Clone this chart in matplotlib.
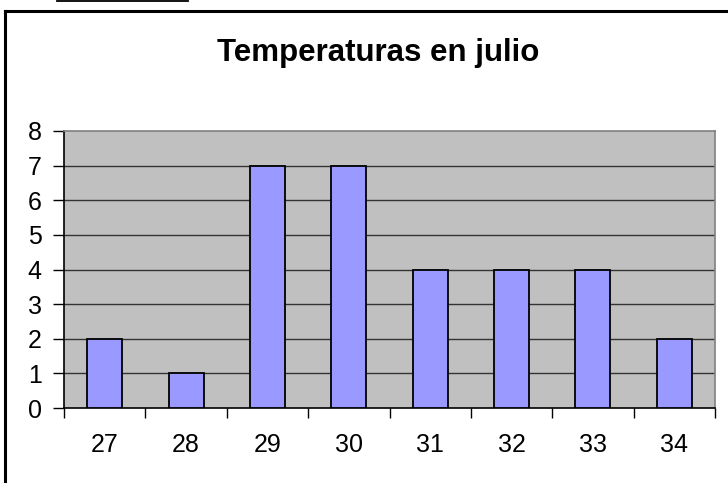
import numpy as np
import matplotlib
matplotlib.use('Agg')
import matplotlib.pyplot as plt
from matplotlib.lines import Line2D

plt.rcParams['font.family'] = ['Liberation Sans', 'DejaVu Sans']

# data: days of July per temperature
temps = ['27', '28', '29', '30', '31', '32', '33', '34']
days = [2, 1, 7, 7, 4, 4, 4, 2]
yticks = [0, 1, 2, 3, 4, 5, 6, 7, 8]

W, H = 728, 483
fig = plt.figure(figsize=(W / 100, H / 100), dpi=100)
fig.patch.set_facecolor('white')

# plot area in pixel terms
left, right, top, bottom = 64, 715, 131, 408
ax = fig.add_axes([left / W, 1 - bottom / H, (right - left) / W, (bottom - top) / H])
ax.set_facecolor('#C0C0C0')

x = np.arange(len(temps))
ax.bar(x, days, width=0.43, color='#9999FF', edgecolor='black', linewidth=1.3, zorder=3)

ax.set_xlim(-0.5, len(temps) - 0.5)
ax.set_ylim(0, 8)
ax.set_yticks(yticks)
ax.set_yticklabels([str(v) for v in yticks])
for v in yticks[1:-1]:
    ax.axhline(v, color='#333333', linewidth=1.0, zorder=1)

ax.set_xticks(x)
ax.set_xticklabels(temps)
ax.set_xticks(np.arange(len(temps) + 1) - 0.5, minor=True)
ax.tick_params(axis='x', which='major', length=0, pad=18, labelsize=18)
ax.tick_params(axis='x', which='minor', length=7, width=1, color='black', direction='out')
ax.tick_params(axis='y', length=8, width=1, color='black', direction='out', pad=8, labelsize=18)

ax.spines['left'].set_color('black')
ax.spines['bottom'].set_color('black')
ax.spines['top'].set_color('#808080')
ax.spines['right'].set_color('#808080')
for s in ax.spines.values():
    s.set_linewidth(1.2)

fig.text(378 / W, 1 - 53 / H, 'Temperaturas en julio', ha='center', va='center',
         fontsize=22.5, fontweight='bold')

# chart border (cropped at right and bottom) and stray line above
fig.add_artist(Line2D([5 / W, 5 / W], [0, 1 - 11 / H], color='black', linewidth=2.2,
                      transform=fig.transFigure))
fig.add_artist(Line2D([5 / W, 1], [1 - 11 / H, 1 - 11 / H], color='black', linewidth=2.2,
                      transform=fig.transFigure))
fig.add_artist(Line2D([57 / W, 188 / W], [1 - 0.8 / H, 1 - 0.8 / H], color='black',
                      linewidth=1.3, transform=fig.transFigure))

fig.savefig('out.png', dpi=100)
